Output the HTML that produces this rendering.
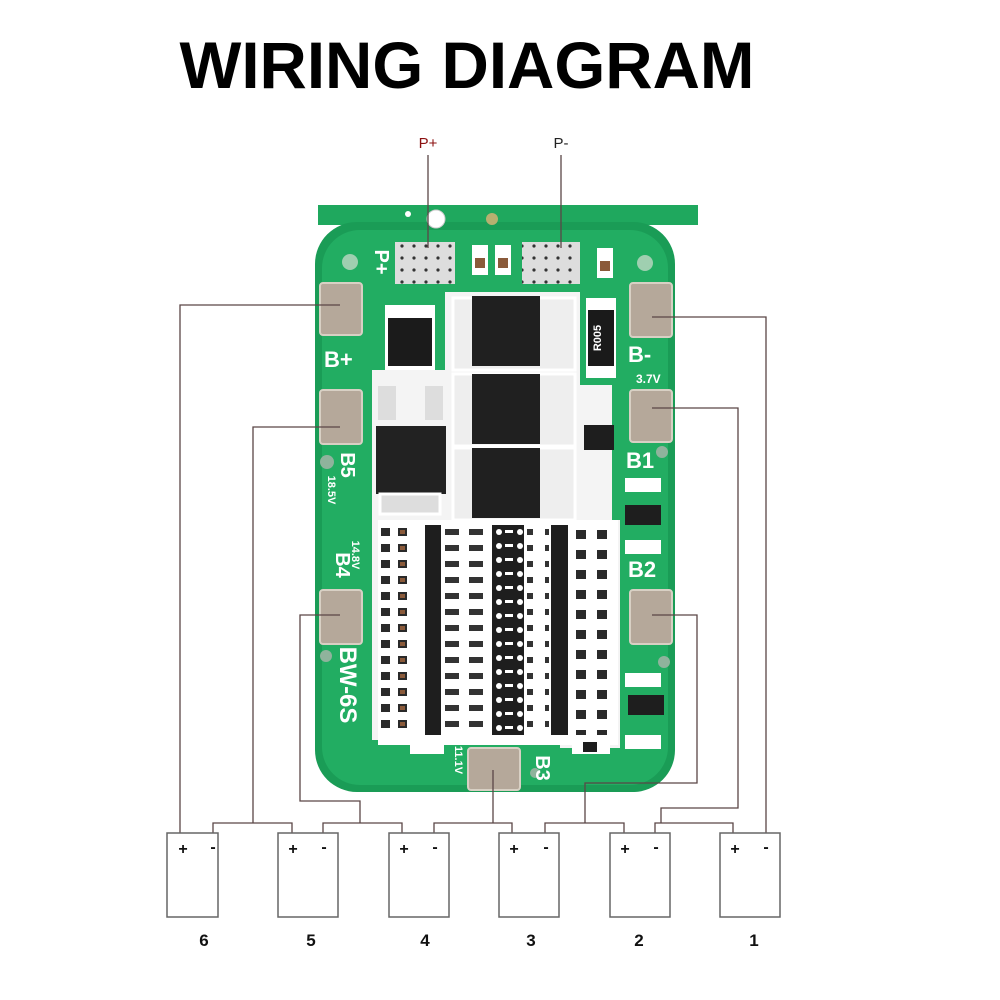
<!DOCTYPE html>
<html><head><meta charset="utf-8"><style>
html,body{margin:0;padding:0;background:#fff;width:1000px;height:1000px;overflow:hidden}
svg{display:block}
</style></head><body>
<svg width="1000" height="1000" viewBox="0 0 1000 1000" xmlns="http://www.w3.org/2000/svg" font-family="Liberation Sans, sans-serif">
<defs>
<pattern id="res" x="378" y="525" width="34" height="16" patternUnits="userSpaceOnUse">
<rect x="1" y="1" width="13" height="12" fill="#fff"/><rect x="3" y="3" width="9" height="8" fill="#2a2a2a"/>
<rect x="18" y="1" width="13" height="12" fill="#fff"/><rect x="20" y="3" width="9" height="8" fill="#2a2a2a"/><rect x="22" y="5" width="5" height="4" fill="#8a5a3a"/>
</pattern>
<pattern id="res2" x="440" y="525" width="50" height="16" patternUnits="userSpaceOnUse">
<rect x="2" y="2" width="20" height="10" fill="#fff"/><rect x="5" y="4" width="14" height="6" fill="#333"/>
<rect x="26" y="2" width="20" height="10" fill="#fff"/><rect x="29" y="4" width="14" height="6" fill="#333"/>
</pattern>
<pattern id="ic" x="490" y="525" width="40" height="14" patternUnits="userSpaceOnUse">
<rect x="0" y="0" width="40" height="14" fill="#1e1e1e"/><circle cx="9" cy="7" r="3" fill="#fff"/><circle cx="30" cy="7" r="3" fill="#fff"/><rect x="15" y="5" width="8" height="3" fill="#fff"/>
</pattern>
<pattern id="res3" x="570" y="525" width="46" height="20" patternUnits="userSpaceOnUse">
<rect x="3" y="2" width="16" height="15" fill="#fff"/><rect x="6" y="5" width="10" height="9" fill="#2a2a2a"/>
<rect x="24" y="2" width="16" height="15" fill="#fff"/><rect x="27" y="5" width="10" height="9" fill="#2a2a2a"/>
</pattern>
<pattern id="dots" width="12" height="12" patternUnits="userSpaceOnUse"><rect width="12" height="12" fill="#ddd"/><circle cx="6" cy="6" r="1.6" fill="#333"/></pattern>
</defs>

<text x="467" y="88" text-anchor="middle" font-size="66" font-weight="bold" textLength="575" lengthAdjust="spacingAndGlyphs" fill="#000">WIRING DIAGRAM</text>
<text x="428" y="148" text-anchor="middle" font-size="15" fill="#8b1010">P+</text>
<text x="561" y="148" text-anchor="middle" font-size="15" fill="#222">P-</text>

<!-- board tab -->
<rect x="318" y="205" width="380" height="20" fill="#1fa85e"/>
<!-- board -->
<rect x="315" y="222" width="360" height="570" rx="42" fill="#1a9c56"/>
<rect x="322" y="230" width="346" height="555" rx="38" fill="#22ad62"/>
<circle cx="436" cy="219" r="9" fill="#fff" stroke="#ccc"/>
<circle cx="492" cy="219" r="6" fill="#b7b070"/>
<circle cx="408" cy="214" r="3" fill="#fff"/>
<!-- white component area -->
<path d="M372 370 H445 V292 H580 V385 H612 V520 H620 V748 H560 V740 H372 Z" fill="#f4f4f4"/>
<rect x="378" y="520" width="240" height="225" fill="#fff"/>
<rect x="378" y="525" width="34" height="210" fill="url(#res)"/>
<rect x="425" y="525" width="16" height="210" fill="#1e1e1e"/>
<rect x="445" y="525" width="45" height="210" fill="url(#res2)"/>
<rect x="492" y="525" width="32" height="210" fill="url(#ic)"/>
<rect x="527" y="525" width="22" height="210" fill="url(#res2)"/>
<rect x="551" y="525" width="17" height="210" fill="#1e1e1e"/>
<rect x="570" y="525" width="44" height="210" fill="url(#res3)"/>
<!-- top pads -->
<rect x="395" y="242" width="60" height="42" fill="url(#dots)"/>
<rect x="522" y="242" width="58" height="42" fill="url(#dots)"/>
<rect x="472" y="245" width="16" height="30" fill="#fff"/><rect x="475" y="258" width="10" height="10" fill="#8a5a3a"/>
<rect x="495" y="245" width="16" height="30" fill="#fff"/><rect x="498" y="258" width="10" height="10" fill="#8a5a3a"/>
<rect x="597" y="248" width="16" height="30" fill="#fff"/><rect x="600" y="261" width="10" height="10" fill="#8a5a3a"/>
<!-- regulator -->
<rect x="385" y="305" width="50" height="65" fill="#fff"/>
<rect x="388" y="318" width="44" height="48" fill="#1b1b1b"/>
<!-- mosfets -->
<rect x="453" y="298" width="122" height="72" fill="#eee" stroke="#fff" stroke-width="3"/>
<rect x="472" y="296" width="68" height="70" fill="#202020"/>
<rect x="453" y="374" width="122" height="72" fill="#eee" stroke="#fff" stroke-width="3"/>
<rect x="472" y="374" width="68" height="70" fill="#202020"/>
<rect x="453" y="448" width="122" height="72" fill="#eee" stroke="#fff" stroke-width="3"/>
<rect x="472" y="448" width="68" height="70" fill="#202020"/>
<rect x="376" y="426" width="70" height="68" fill="#222"/>
<rect x="380" y="494" width="60" height="20" fill="#ddd" stroke="#fff" stroke-width="3"/>
<rect x="378" y="386" width="18" height="34" fill="#ddd"/><rect x="425" y="386" width="18" height="34" fill="#ddd"/>
<!-- R005 -->
<rect x="586" y="298" width="30" height="80" fill="#fff"/>
<rect x="588" y="310" width="26" height="56" fill="#1a1a1a"/>
<text x="601" y="338" font-size="11" fill="#fff" text-anchor="middle" transform="rotate(-90 601 338)" font-weight="bold">R005</text>
<rect x="584" y="425" width="30" height="25" fill="#1e1e1e"/>
<rect x="625" y="505" width="36" height="20" fill="#1e1e1e"/>
<rect x="625" y="540" width="36" height="14" fill="#fff"/>
<rect x="625" y="478" width="36" height="14" fill="#fff"/>
<rect x="628" y="695" width="36" height="20" fill="#1e1e1e"/>
<rect x="625" y="673" width="36" height="14" fill="#fff"/>
<rect x="625" y="735" width="36" height="14" fill="#fff"/>
<rect x="572" y="740" width="38" height="14" fill="#fff"/><rect x="583" y="742" width="14" height="10" fill="#1e1e1e"/>
<rect x="410" y="738" width="34" height="16" fill="#fff"/>
<!-- battery pads -->
<g fill="#b5a89a" stroke="#d8d0c4" stroke-width="2">
<rect x="320" y="283" width="42" height="52" rx="3"/>
<rect x="320" y="390" width="42" height="54" rx="3"/>
<rect x="320" y="590" width="42" height="54" rx="3"/>
<rect x="630" y="283" width="42" height="54" rx="3"/>
<rect x="630" y="390" width="42" height="52" rx="3"/>
<rect x="630" y="590" width="42" height="54" rx="3"/>
<rect x="468" y="748" width="52" height="42" rx="3"/>
</g>
<circle cx="350" cy="262" r="8" fill="#9fcfb0"/><circle cx="645" cy="263" r="8" fill="#9fcfb0"/>
<circle cx="327" cy="462" r="7" fill="#8fb39c"/><circle cx="662" cy="452" r="6" fill="#8fb39c"/>
<circle cx="326" cy="656" r="6" fill="#8fb39c"/><circle cx="664" cy="662" r="6" fill="#8fb39c"/><circle cx="535" cy="773" r="5" fill="#8fb39c"/>
<!-- labels -->
<g fill="#fff" font-weight="bold">
<text x="375" y="262" font-size="20" transform="rotate(90 375 262)" text-anchor="middle">P+</text>
<text x="324" y="367" font-size="22">B+</text>
<text x="628" y="362" font-size="22">B-</text>
<text x="636" y="383" font-size="12">3.7V</text>
<text x="626" y="468" font-size="22">B1</text>
<text x="628" y="577" font-size="22">B2</text>
<text x="341" y="465" font-size="20" transform="rotate(90 341 465)" text-anchor="middle">B5</text>
<text x="328" y="490" font-size="11" transform="rotate(90 328 490)" text-anchor="middle">18.5V</text>
<text x="336" y="565" font-size="20" transform="rotate(90 336 565)" text-anchor="middle">B4</text>
<text x="352" y="555" font-size="11" transform="rotate(90 352 555)" text-anchor="middle">14.8V</text>
<text x="340" y="685" font-size="24" transform="rotate(90 340 685)" text-anchor="middle">BW-6S</text>
<text x="536" y="768" font-size="20" transform="rotate(90 536 768)" text-anchor="middle">B3</text>
<text x="455" y="760" font-size="11" transform="rotate(90 455 760)" text-anchor="middle">11.1V</text>
</g>

<!-- wires -->
<g fill="none" stroke="#5a4646" stroke-width="1.3">
<path d="M428 155 V248"/><path d="M561 155 V248"/>
<path d="M340 305 H180 V833"/>
<path d="M340 427 H253 V823"/>
<path d="M340 615 H300 V801 H360 V823"/>
<path d="M493 770 V823"/>
<path d="M652 615 H697 V783 H585 V823"/>
<path d="M652 408 H738 V808 H661 V823"/>
<path d="M652 317 H766 V833"/>
<path d="M213 833 V823 H292 V833"/>
<path d="M323 833 V823 H402 V833"/>
<path d="M434 833 V823 H512 V833"/>
<path d="M545 833 V823 H624 V833"/>
<path d="M655 833 V823 H733 V833"/>
</g>
<!-- batteries -->
<g fill="#fff" stroke="#666" stroke-width="1.5">
<rect x="167" y="833" width="51" height="84"/>
<rect x="278" y="833" width="60" height="84"/>
<rect x="389" y="833" width="60" height="84"/>
<rect x="499" y="833" width="60" height="84"/>
<rect x="610" y="833" width="60" height="84"/>
<rect x="720" y="833" width="60" height="84"/>
</g>
<g font-size="16" font-weight="bold" fill="#111" text-anchor="middle">
<text x="183" y="854">+</text><text x="213" y="852">-</text>
<text x="293" y="854">+</text><text x="324" y="852">-</text>
<text x="404" y="854">+</text><text x="435" y="852">-</text>
<text x="514" y="854">+</text><text x="546" y="852">-</text>
<text x="625" y="854">+</text><text x="656" y="852">-</text>
<text x="735" y="854">+</text><text x="766" y="852">-</text>
</g>
<g font-size="17" font-weight="bold" fill="#111" text-anchor="middle">
<text x="204" y="946">6</text><text x="311" y="946">5</text><text x="425" y="946">4</text>
<text x="531" y="946">3</text><text x="639" y="946">2</text><text x="754" y="946">1</text>
</g>
</svg>
</body></html>
